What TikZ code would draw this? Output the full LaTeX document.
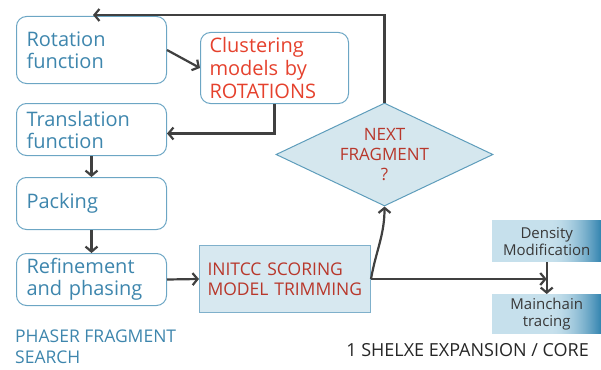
\documentclass[tikz,border=0pt]{standalone}
\usepackage{fontspec}
\setmainfont{Open Sans}
\usetikzlibrary{arrows.meta,shapes.geometric,backgrounds}
\definecolor{bxborder}{HTML}{6CA6C4}
\definecolor{bxtext}{HTML}{3E86AD}
\definecolor{redA}{HTML}{E5412D}
\definecolor{redB}{HTML}{B8372B}
\definecolor{dfill}{HTML}{D5E7EE}
\definecolor{dborder}{HTML}{5E9DBB}
\definecolor{ifill}{HTML}{D7E8F0}
\definecolor{iborder}{HTML}{7FB0CB}
\definecolor{arrc}{HTML}{404040}
\definecolor{gmid}{HTML}{C6E0EC}
\definecolor{gright}{HTML}{3585B0}
\tikzset{
  rbox/.style={draw=bxborder, line width=1pt, rounded corners=10pt, anchor=north west,
    align=left, text=bxtext, inner xsep=10pt, inner ysep=0pt,
    font=\fontsize{20}{22}\selectfont},
  gbox/.style={anchor=north west, inner sep=0pt, align=center, text=black!78,
    font=\fontsize{15}{17}\selectfont},
  arr/.style={draw=arrc, line width=2.2pt, -{Straight Barb[length=5pt,width=12pt]}},
}
\newcommand{\gradbg}[1]{%
  \fill[gmid] (#1.north west) rectangle (#1.south east);
  \foreach \i in {0,...,49}{%
    \pgfmathsetmacro{\pct}{100*((\i+0.5)/50)^1.7}%
    \fill[gright!\pct!gmid] ([xshift=\i pt-50pt]#1.north east) rectangle ([xshift=\i pt-48.9pt]#1.south east);
  }%
}
\begin{document}
\begin{tikzpicture}[x=1pt,y=-1pt]
\useasboundingbox (0,0) rectangle (601,369);
% left column
\node[rbox, minimum width=150pt, minimum height=67pt, text width=130pt] (rot) at (16,16) {Rotation\\function};
\node[rbox, minimum width=150pt, minimum height=52pt, text width=130pt] (trans) at (16,103) {Translation\\function};
\node[rbox, minimum width=150pt, minimum height=52pt, text width=130pt] (pack) at (16,177) {Packing};
\node[rbox, minimum width=150pt, minimum height=52pt, text width=130pt] (ref) at (16,253) {Refinement\\and phasing};
% clustering
\node[rbox, minimum width=148pt, minimum height=71pt, text width=130pt, text=redA,
  inner xsep=9pt, font=\fontsize{20}{23}\selectfont] (clus) at (200,32) {Clustering\\models by\\ROTATIONS};
% initcc
\node[draw=iborder, line width=1pt, fill=ifill, anchor=north west, minimum width=171pt, minimum height=67pt,
  text width=155pt, inner xsep=7pt, inner ysep=0pt, align=left, text=redB,
  font=\fontsize{17.5}{20}\selectfont] (init) at (199,245) {INITCC SCORING\\MODEL TRIMMING};
% diamond
\node[diamond, draw=dborder, line width=1pt, fill=dfill, minimum width=217pt, minimum height=103pt,
  inner sep=0pt, label={[text=redB, align=center, font=\fontsize{17}{20}\selectfont]center:NEXT\\FRAGMENT\\?}] (next) at (384.5,154.5) {};
% gradient boxes
\node[gbox, minimum width=109pt, minimum height=42pt] (dens) at (492,220) {Density\\Modification};
\node[gbox, minimum width=109pt, minimum height=40pt] (main) at (492,294) {Mainchain\\tracing};
\begin{scope}[on background layer]
  \gradbg{dens}
  \gradbg{main}
\end{scope}
% labels
\node[anchor=north west, inner sep=0pt, align=left, text=bxtext, font=\fontsize{17.5}{21}\selectfont] (phaser) at (15,330) {PHASER FRAGMENT\\SEARCH};
\node[anchor=north east, inner sep=0pt, text=black!85, font=\fontsize{18}{21}\selectfont] (shelxe) at (589,343) {1 SHELXE EXPANSION / CORE};
% connectors
\coordinate (fb) at (93,15);
\draw[arr] (next.north) |- (fb);
\draw[arr] (rot.east) -- (clus.west);
\draw[arr] (clus.south) |- ([yshift=-4pt]trans.east);
\draw[arr] (trans.south) -- (pack.north);
\draw[arr] (pack.south) -- (ref.north);
\draw[arr] (ref.east) -- (init.west);
\draw[arr] (init.east) to[out=80,in=-90] (next.south);
\coordinate (hit) at (dens.south |- init.east);
\draw[arr] (init.east) -- (hit);
\draw[arr] (dens.south) -- (main.north);
\end{tikzpicture}
\end{document}
